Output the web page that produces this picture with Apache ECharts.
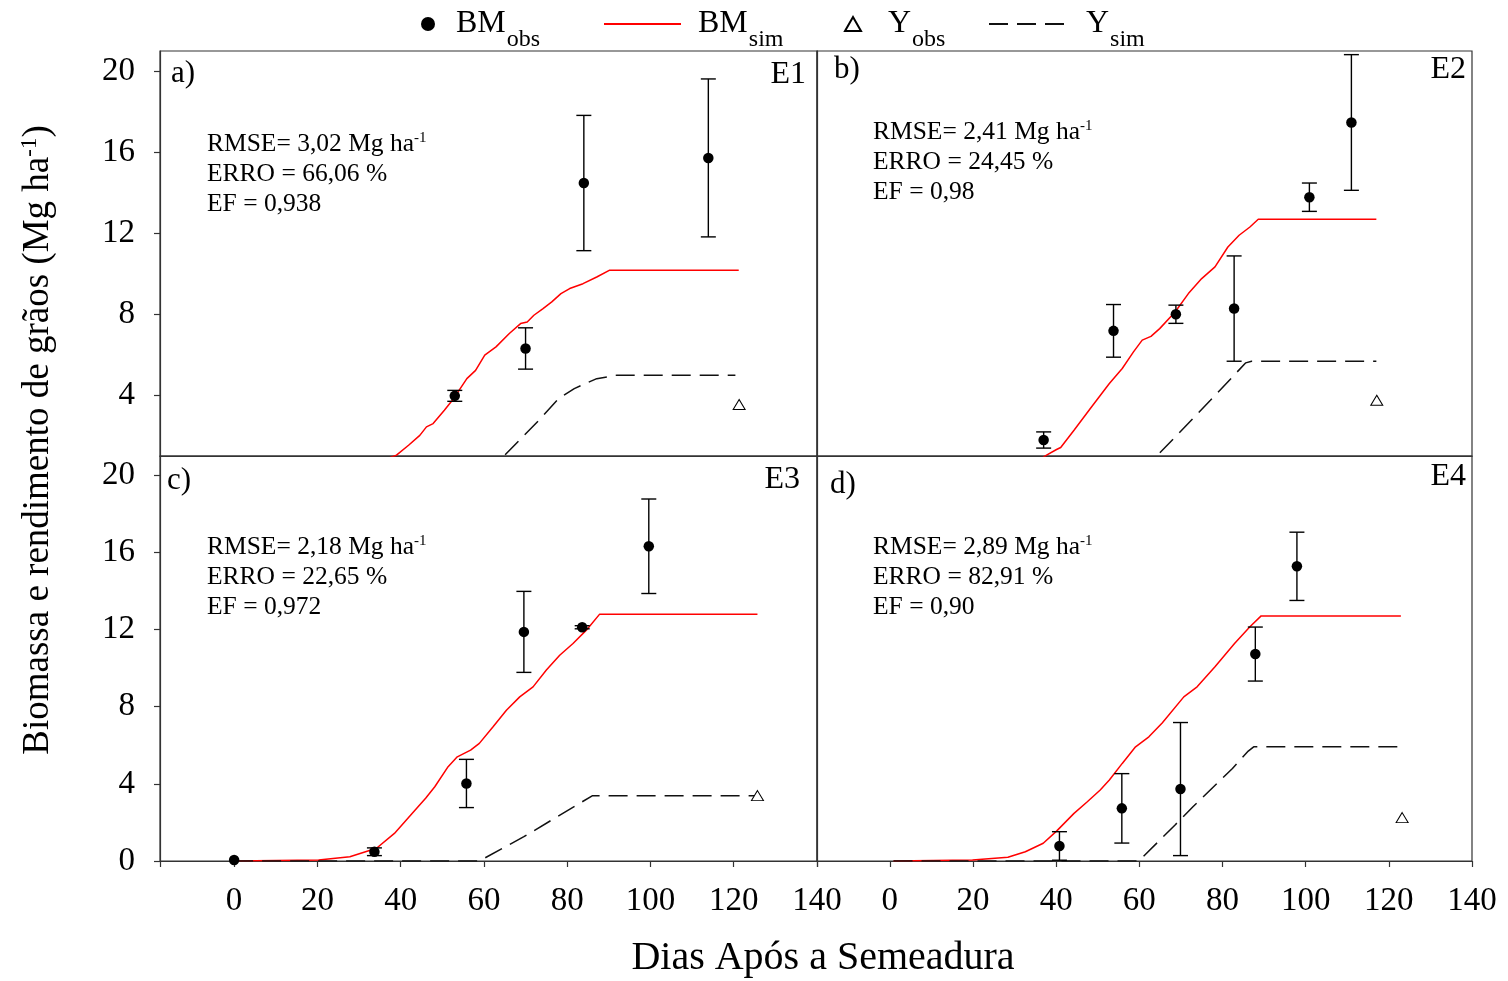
<!DOCTYPE html>
<html>
<head>
<meta charset="utf-8">
<script src="https://cdn.jsdelivr.net/npm/echarts@6/dist/echarts.min.js"></script>
<style>html,body{margin:0;padding:0;background:#fff}#c{width:1508px;height:981px}</style>
</head>
<body>
<div id="c"></div>
<script>
// ---------- data ----------
const ticksX = [0, 20, 40, 60, 80, 100, 120, 140];
const ticksYTop = [4, 8, 12, 16, 20];
const ticksYBottom = [0, 4, 8, 12, 16, 20];

// panel a (E1)
const obsDaysA = [53.0, 70.0, 84.0, 113.9];
const obsBmA   = [3.97, 6.31, 14.48, 15.72];
const obsErrA  = [0.27, 1.02, 3.34, 3.90];
const yObsA    = [[121.3, 3.54]];
const bmSimA   = [[0,0],[10,0.01],[20,0.06],[28,0.25],[33,0.55],[36.5,0.85],[39.0,1.04],[41.9,1.53],[44.6,2.02],[46.2,2.44],[47.8,2.60],[50.5,3.26],[52.7,3.83],[55.9,4.82],[58.0,5.23],[60.2,5.98],[62.9,6.39],[66.1,7.05],[68.8,7.54],[70.4,7.62],[72.0,7.95],[74.2,8.28],[76.3,8.61],[78.5,9.02],[80.6,9.27],[83.8,9.51],[87.1,9.84],[90.1,10.17],[121.2,10.17]];
const ySimA    = [[0,0],[60,0],[65.0,1.04],[73.6,2.85],[77.9,3.83],[81.7,4.33],[87.1,4.82],[91.9,4.99],[120.4,4.99]];

// panel b (E2)
const obsDaysB = [37.0, 53.8, 68.8, 82.8, 100.9, 111.0];
const obsBmB   = [1.79, 7.18, 8.00, 8.28, 13.78, 17.47];
const obsErrB  = [0.40, 1.30, 0.45, 2.60, 0.70, 3.35];
const yObsB    = [[117.1, 3.75]];
const bmSimB   = [[0,0],[15,0.02],[25,0.15],[32,0.45],[35.5,0.75],[37.7,1.04],[40.1,1.32],[41.1,1.42],[44.3,2.27],[48.5,3.42],[52.8,4.58],[55.9,5.32],[58.6,6.14],[60.7,6.72],[62.8,6.91],[64.9,7.29],[68.6,8.11],[71.8,9.02],[75.0,9.76],[78.2,10.34],[81.3,11.32],[84.0,11.90],[86.6,12.31],[88.6,12.69],[117.0,12.69]];
const ySimB    = [[0,0],[59.5,0],[64.4,1.04],[72.9,2.85],[77.1,3.75],[85.6,5.60],[87.0,5.68],[117.0,5.68]];

// panel c (E3)
const obsDaysC = [0, 33.7, 55.8, 69.6, 83.6, 99.6];
const obsBmC   = [0.05, 0.48, 4.02, 11.88, 12.12, 16.32];
const obsErrC  = [0, 0.20, 1.25, 2.10, 0.08, 2.45];
const yObsC    = [[125.7, 3.39]];
const bmSimC   = [[0,0],[20.3,0.05],[27.8,0.22],[34.2,0.66],[38.5,1.43],[42.8,2.47],[46.0,3.25],[48.2,3.85],[51.4,4.89],[53.6,5.40],[56.8,5.75],[58.9,6.10],[62.2,6.96],[65.4,7.82],[68.6,8.51],[71.8,9.03],[75.0,9.90],[78.2,10.67],[81.4,11.28],[84.6,11.97],[87.8,12.80],[125.7,12.80]];
const ySimC    = [[0,0],[58.9,0],[69.6,1.26],[83.6,3.07],[86.0,3.38],[125.7,3.38]];

// panel d (E4)
const obsDaysD = [40.8, 55.8, 69.9, 87.9, 97.9];
const obsBmD   = [0.78, 2.73, 3.73, 10.73, 15.28];
const obsErrD  = [0.74, 1.80, 3.45, 1.40, 1.77];
const yObsD    = [[123.2, 2.25]];
const bmSimD   = [[0.9,0],[19.9,0.05],[28.4,0.19],[32.6,0.48],[36.9,0.92],[40.1,1.55],[44.3,2.47],[47.5,3.07],[50.6,3.68],[52.8,4.20],[55.9,5.06],[59.1,5.92],[62.3,6.44],[65.5,7.16],[70.7,8.51],[73.9,9.03],[78.2,10.07],[82.9,11.28],[86.6,12.15],[89.3,12.71],[122.9,12.71]];
const ySimD    = [[0.9,0],[59.9,0],[68.6,1.87],[72.9,2.81],[82.4,4.80],[86.2,5.70],[87.5,5.92],[122.9,5.92]];

const panelTags  = ['a)', 'b)', 'c)', 'd)'];
const panelNames = ['E1', 'E2', 'E3', 'E4'];
const statRmse = ['RMSE= 3,02 Mg ha', 'RMSE= 2,41 Mg ha', 'RMSE= 2,18 Mg ha', 'RMSE= 2,89 Mg ha'];
const statErro = ['ERRO = 66,06 %', 'ERRO = 24,45 %', 'ERRO = 22,65 %', 'ERRO = 82,91 %'];
const statEf   = ['EF = 0,938', 'EF = 0,98', 'EF = 0,972', 'EF = 0,90'];

// ---------- layout ----------
const FONT = 'Liberation Serif';
const panels = [
  {obsD: obsDaysA, obsV: obsBmA, obsE: obsErrA, yObs: yObsA, bmSim: bmSimA, ySim: ySimA},
  {obsD: obsDaysB, obsV: obsBmB, obsE: obsErrB, yObs: yObsB, bmSim: bmSimB, ySim: ySimB},
  {obsD: obsDaysC, obsV: obsBmC, obsE: obsErrC, yObs: yObsC, bmSim: bmSimC, ySim: ySimC},
  {obsD: obsDaysD, obsV: obsBmD, obsE: obsErrD, yObs: yObsD, bmSim: bmSimD, ySim: ySimD}
];
const gridBoxes = [
  {left: 160, top: 51, width: 657, height: 405, xmin: -17.8, ymin: 1, row: 0, col: 0},
  {left: 817, top: 51, width: 655, height: 405, xmin: -17.5, ymin: 1, row: 0, col: 1},
  {left: 160, top: 456, width: 657, height: 405, xmin: -17.8, ymin: 0, row: 1, col: 0},
  {left: 817, top: 456, width: 655, height: 405, xmin: -17.5, ymin: 0, row: 1, col: 1}
];
const AX = '#333';

const grid = gridBoxes.map(g => ({left: g.left, top: g.top, width: g.width, height: g.height,
  show: true, borderColor: AX, borderWidth: 1.2, backgroundColor: 'transparent', containLabel: false}));

const xAxis = gridBoxes.map((g, i) => ({
  type: 'value', gridIndex: i, min: g.xmin, max: 140,
  axisLine: {show: true, onZero: false, lineStyle: {color: AX, width: 1.2}},
  axisTick: {show: g.row === 1, customValues: [g.xmin].concat(ticksX), length: 6, inside: false, lineStyle: {color: AX, width: 1.2}},
  axisLabel: {show: g.row === 1, customValues: ticksX, fontFamily: FONT, fontSize: 33, lineHeight: 34, color: '#000', margin: 23},
  splitLine: {show: false}
}));
const yAxis = gridBoxes.map((g, i) => ({
  type: 'value', gridIndex: i, min: g.ymin, max: 21,
  axisLine: {show: true, onZero: false, lineStyle: {color: AX, width: 1.2}},
  axisTick: {show: g.col === 0, customValues: g.row === 0 ? ticksYTop : ticksYBottom, length: 6, inside: false, lineStyle: {color: AX, width: 1.2}},
  axisLabel: {show: g.col === 0, customValues: g.row === 0 ? ticksYTop : ticksYBottom, fontFamily: FONT, fontSize: 33, color: '#000', margin: 25},
  splitLine: {show: false}
}));

function errorRender(params, api) {
  const x = api.value(0), y = api.value(1), e = api.value(2);
  if (!e) return null;
  const t = api.coord([x, y + e]), b = api.coord([x, y - e]);
  const hw = 7.5;
  const st = {stroke: '#000', lineWidth: 1.4};
  return {type: 'group', children: [
    {type: 'line', shape: {x1: t[0], y1: t[1], x2: b[0], y2: b[1]}, style: st},
    {type: 'line', shape: {x1: t[0] - hw, y1: t[1], x2: t[0] + hw, y2: t[1]}, style: st},
    {type: 'line', shape: {x1: b[0] - hw, y1: b[1], x2: b[0] + hw, y2: b[1]}, style: st}
  ]};
}

const series = [];
panels.forEach((p, i) => {
  const obs = p.obsD.map((d, k) => [d, p.obsV[k]]);
  const errs = p.obsD.map((d, k) => [d, p.obsV[k], p.obsE[k]]);
  series.push({type: 'line', name: 'BMsim', xAxisIndex: i, yAxisIndex: i, data: p.bmSim,
    showSymbol: false, symbol: 'none', clip: true, lineStyle: {color: '#ff0000', width: 1.5}, itemStyle: {color: '#ff0000'}, z: 3, silent: true});
  series.push({type: 'line', name: 'Ysim', xAxisIndex: i, yAxisIndex: i, data: p.ySim,
    showSymbol: false, symbol: 'none', clip: true, lineStyle: {color: '#111', width: 1.5, type: [19, 9]}, itemStyle: {color: '#111'}, z: 3, silent: true});
  series.push({type: 'custom', name: 'err' + i, xAxisIndex: i, yAxisIndex: i, data: errs,
    renderItem: errorRender, encode: {x: 0, y: 1}, z: 4, silent: true, clip: true});
  series.push({type: 'scatter', name: 'BMobs', xAxisIndex: i, yAxisIndex: i, data: obs,
    symbol: 'circle', symbolSize: 10.5, itemStyle: {color: '#000', opacity: 1}, z: 5, silent: true});
  series.push({type: 'scatter', name: 'Yobs', xAxisIndex: i, yAxisIndex: i, data: p.yObs,
    symbol: 'triangle', symbolSize: [12, 10], itemStyle: {color: '#fff', borderColor: '#000', borderWidth: 1, opacity: 1}, z: 5, silent: true});
});

// ---------- legends (one per item, for exact placement) ----------
const legendLabel = {BMobs: ['BM', 'obs'], BMsim: ['BM', 'sim'], Yobs: ['Y', 'obs'], Ysim: ['Y', 'sim']};
function mkLegend(name, left, iw, ih, padLeft, hideSymbol) {
  const lg = {
    data: [name], left: left, top: -4, padding: 0, itemWidth: iw, itemHeight: ih, selectedMode: false,
    formatter: n => '{m|' + legendLabel[n][0] + '}{s|' + legendLabel[n][1] + '}',
    textStyle: {color: '#000', fontFamily: FONT, rich: {
      m: {fontFamily: FONT, fontSize: 32, lineHeight: 32, color: '#000', padding: [0, 0, 0, padLeft]},
      s: {fontFamily: FONT, fontSize: 24, lineHeight: 24, color: '#000', padding: [32, 0, 0, 1]}
    }}
  };
  if (hideSymbol) lg.itemStyle = {opacity: 0};
  return lg;
}
const legend = [
  mkLegend('BMobs', 421, 14, 14, 16, false),
  mkLegend('BMsim', 603, 77, 14, 12, true),
  mkLegend('Yobs', 844, 16, 14, 22, false),
  mkLegend('Ysim', 988, 77, 14, 15, true)
];

// ---------- texts ----------
const graphic = [];
const statPos = [[207, 144], [873, 132], [207, 547], [873, 547]];
const tagPos = [[171, 74], [834, 70], [167, 481], [830, 485]];
const namePos = [[806, 75], [1466, 70], [800, 480], [1466, 477]];
const STAT = 25.5;
const supRich = {
  t: {fontFamily: FONT, fontSize: STAT, lineHeight: 27, fill: '#000'},
  s: {fontFamily: FONT, fontSize: 15, lineHeight: 15, fill: '#000', verticalAlign: 'top'}
};
for (let i = 0; i < 4; i++) {
  const [sx, sy] = statPos[i];
  graphic.push({type: 'text', x: sx, y: sy, silent: true, style: {text: '{t|' + statRmse[i] + '}{s|-1}', rich: supRich, align: 'left', verticalAlign: 'middle', fill: '#000'}});
  graphic.push({type: 'text', x: sx, y: sy + 30, silent: true, style: {text: statErro[i], font: STAT + 'px "' + FONT + '"', fill: '#000', align: 'left', verticalAlign: 'middle'}});
  graphic.push({type: 'text', x: sx, y: sy + 60, silent: true, style: {text: statEf[i], font: STAT + 'px "' + FONT + '"', fill: '#000', align: 'left', verticalAlign: 'middle'}});
  graphic.push({type: 'text', x: tagPos[i][0], y: tagPos[i][1], silent: true, style: {text: panelTags[i], font: '31px "' + FONT + '"', fill: '#000', align: 'left', verticalAlign: 'middle'}});
  graphic.push({type: 'text', x: namePos[i][0], y: namePos[i][1], silent: true, style: {text: panelNames[i], font: '32px "' + FONT + '"', fill: '#000', align: 'right', verticalAlign: 'middle'}});
}
graphic.push({type: 'text', x: 823, y: 958, silent: true, style: {text: 'Dias Após a Semeadura', font: '40px "' + FONT + '"', fill: '#000', align: 'center', verticalAlign: 'middle'}});
graphic.push({type: 'text', x: 38, y: 440, rotation: Math.PI / 2, silent: true, style: {
  text: '{t|Biomassa e rendimento de grãos (Mg ha}{s|-1}{t|)}', align: 'center', verticalAlign: 'middle',
  rich: {
    t: {fontFamily: FONT, fontSize: 37, lineHeight: 40, fill: '#000'},
    s: {fontFamily: FONT, fontSize: 23, lineHeight: 23, fill: '#000', verticalAlign: 'top'}
  }}});

const chart = echarts.init(document.getElementById('c'), null, {renderer: 'canvas'});
chart.setOption({
  animation: false,
  backgroundColor: '#fff',
  grid, xAxis, yAxis, series, legend, graphic
});
</script>
</body>
</html>
